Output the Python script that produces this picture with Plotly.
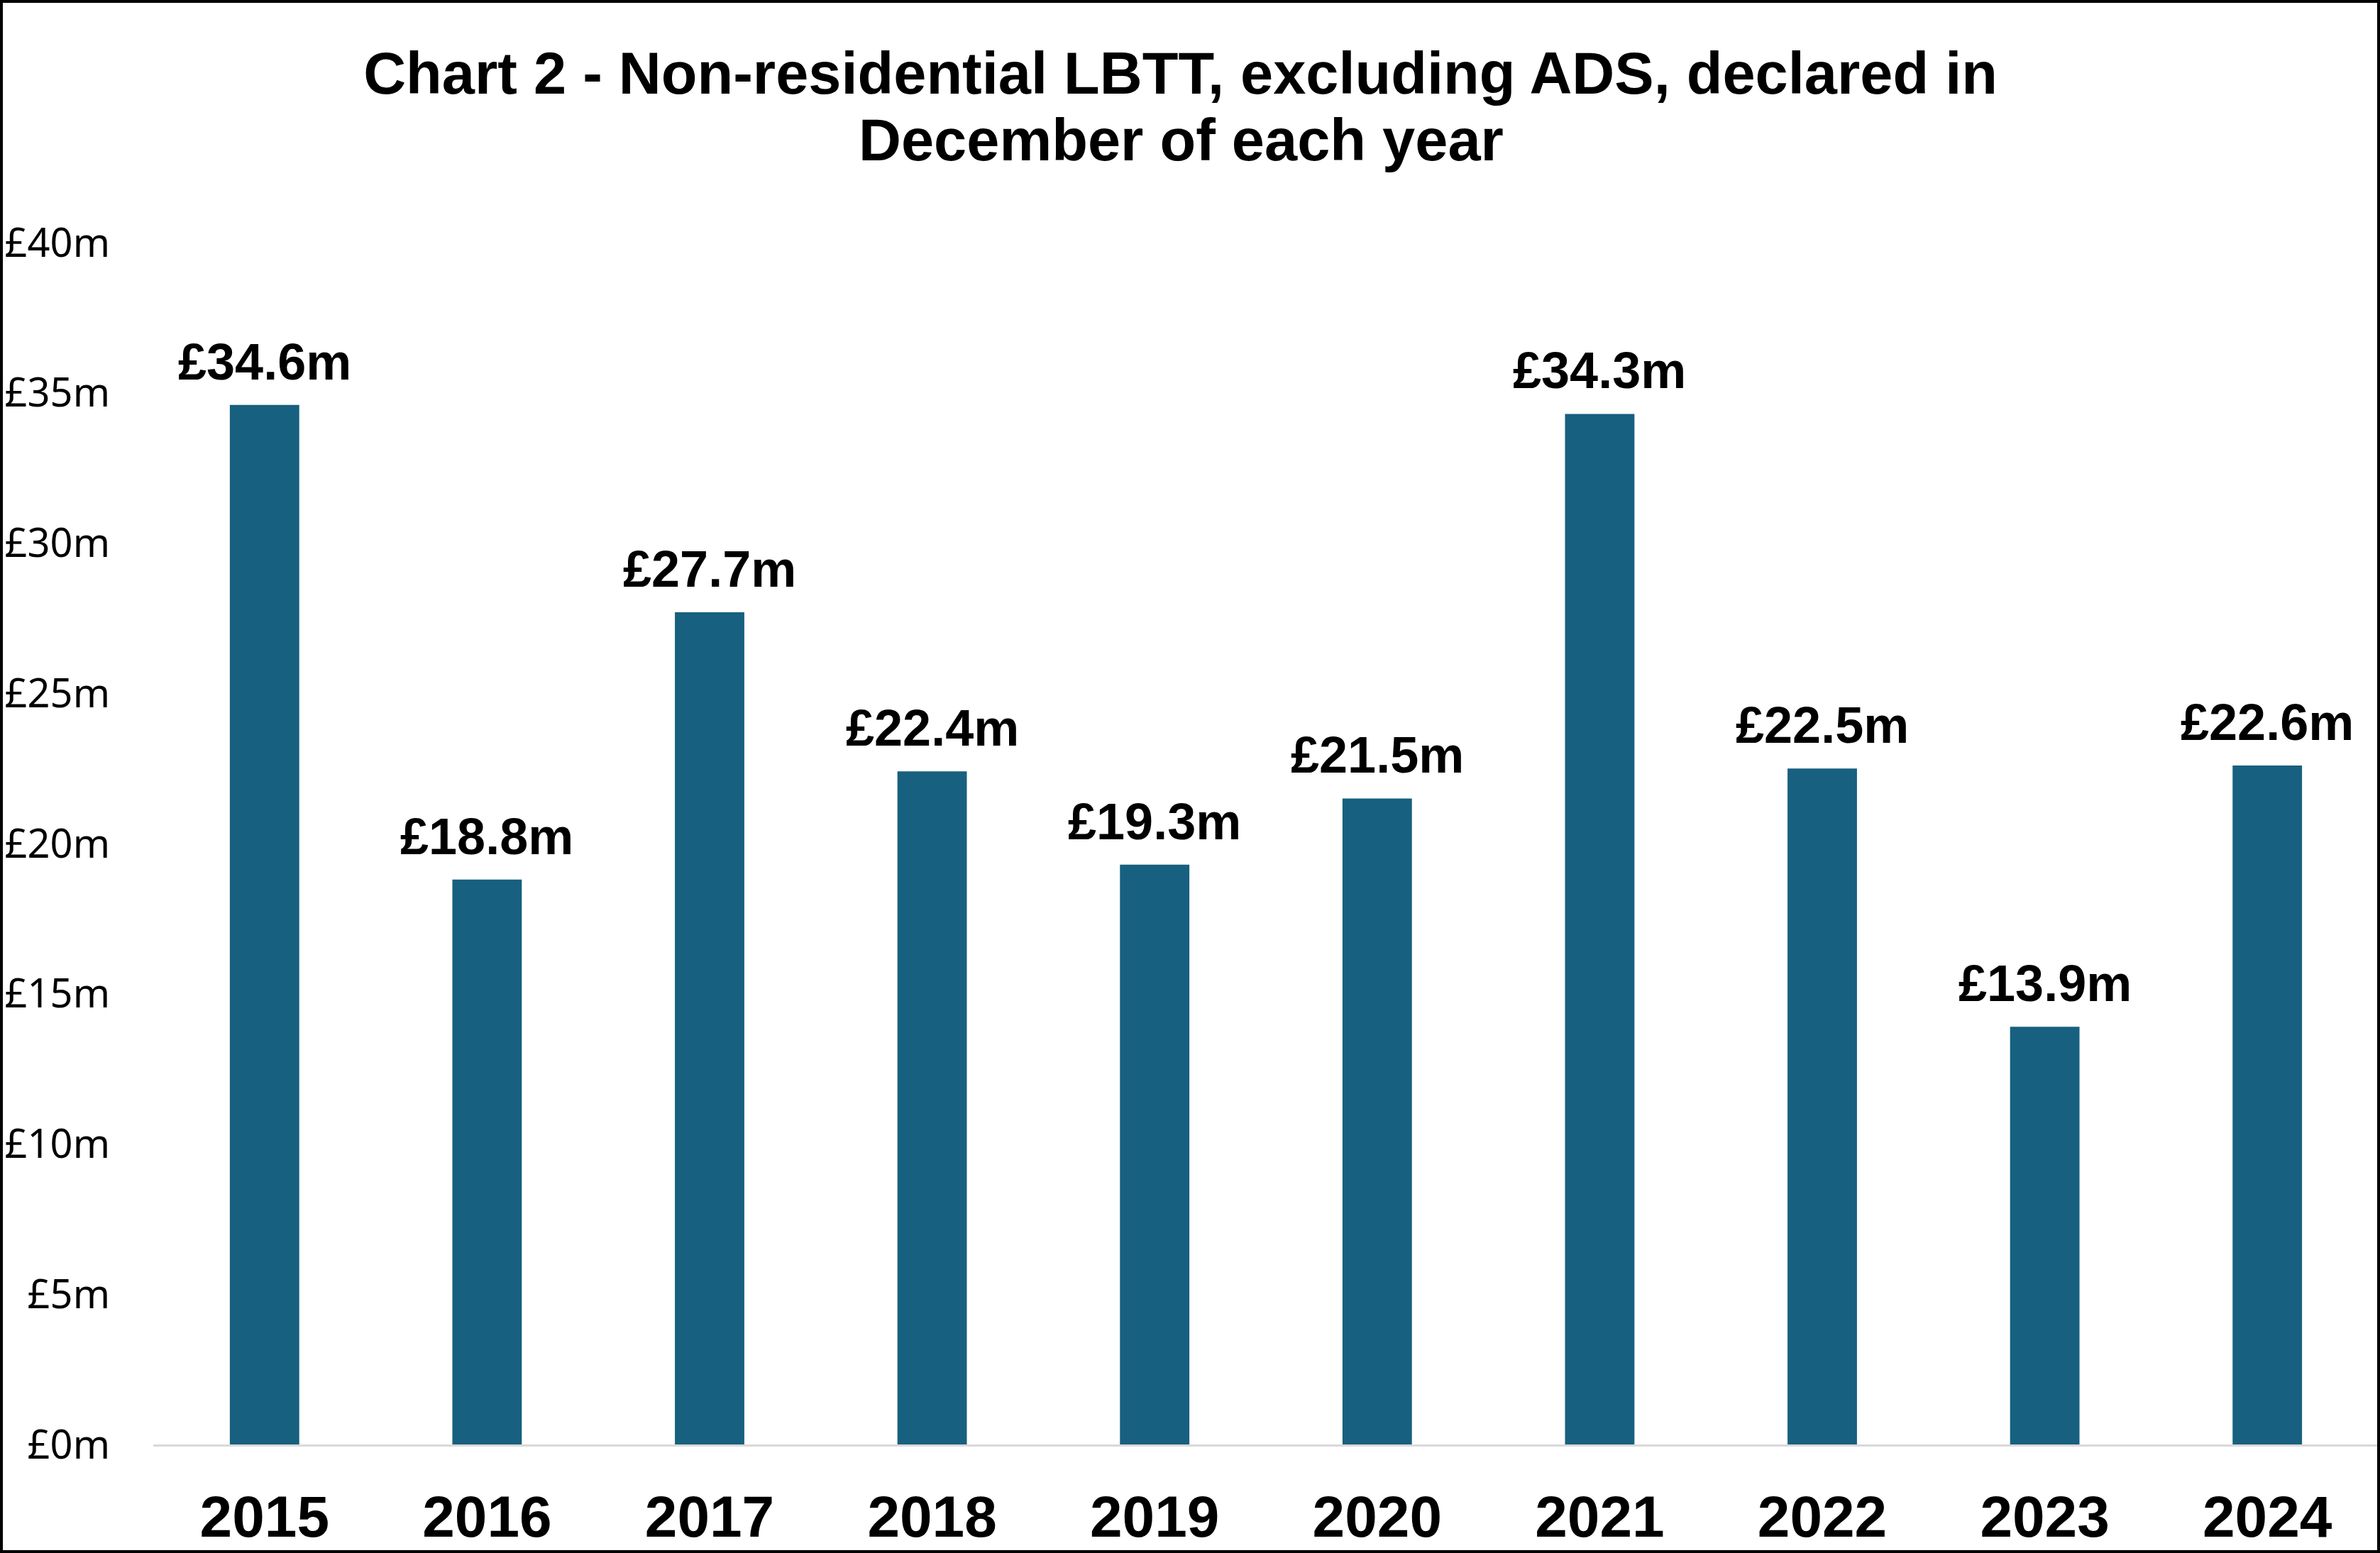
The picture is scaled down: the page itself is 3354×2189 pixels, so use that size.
import plotly.graph_objects as go

# values (£ millions)
years = ["2015", "2016", "2017", "2018", "2019", "2020", "2021", "2022", "2023", "2024"]
lbtt_m = [34.6, 18.8, 27.7, 22.4, 19.3, 21.5, 34.3, 22.5, 13.9, 22.6]
y_ticks = [0, 5, 10, 15, 20, 25, 30, 35, 40]
y_tick_labels = ["£0m", "£5m", "£10m", "£15m", "£20m", "£25m", "£30m", "£35m", "£40m"]
title_lines = ["Chart 2 - Non-residential LBTT, excluding ADS, declared in", "December of each year"]

W, H = 3354, 2189
L, R, T, B = 216, 2, 342, 153
pw, ph = W - L - R, H - T - B

title_font = dict(family="Liberation Sans", size=83, color="black", weight="bold")
label_font = dict(family="Liberation Sans", size=72, color="black", weight="bold")

fig = go.Figure(go.Bar(
    x=years,
    y=lbtt_m,
    marker=dict(color="#17607f", line=dict(width=0)),
))

# value labels above each bar (x given as category index)
for i, v in enumerate(lbtt_m):
    fig.add_annotation(
        x=i, y=v, text=f"£{v:.1f}m",
        showarrow=False, yanchor="bottom", yshift=19,
        font=label_font,
    )

# second title line, Excel-style tighter line spacing
fig.add_annotation(
    xref="paper", yref="paper",
    x=(1664 - L) / pw, y=(H - 197 - B) / ph,
    xanchor="center", yanchor="middle",
    text=title_lines[1], showarrow=False,
    font=title_font,
)

fig.update_layout(
    width=W,
    height=H,
    margin=dict(l=L, r=R, t=T, b=B),
    paper_bgcolor="white",
    plot_bgcolor="white",
    bargap=0.688,
    showlegend=False,
    title=dict(
        text=title_lines[0],
        font=title_font,
        x=0.496,
        xanchor="center",
        xref="container",
        y=1 - 103 / H,
        yanchor="middle",
        yref="container",
        automargin=False,
    ),
    xaxis=dict(
        type="category",
        automargin=False,
        showline=True,
        linecolor="#d9d9d9",
        linewidth=3,
        showgrid=False,
        ticks="",
        tickfont=dict(family="Liberation Sans", size=82, color="black", weight="bold"),
        ticklabelstandoff=29,
    ),
    yaxis=dict(
        range=[0, 40],
        automargin=False,
        tickvals=y_ticks,
        ticktext=y_tick_labels,
        showgrid=False,
        zeroline=False,
        showline=False,
        ticks="",
        tickfont=dict(family="Noto Sans", size=56, color="black"),
        ticklabelstandoff=60,
    ),
    shapes=[dict(
        type="rect",
        xref="paper", yref="paper",
        x0=-L / pw, x1=1 + R / pw,
        y0=-B / ph, y1=1 + T / ph,
        line=dict(color="black", width=8),
        fillcolor="rgba(0,0,0,0)",
    )],
)

fig.write_html(
    "out.html",
    config={"displayModeBar": False},
    post_script="document.body.style.margin = '0';",
)
